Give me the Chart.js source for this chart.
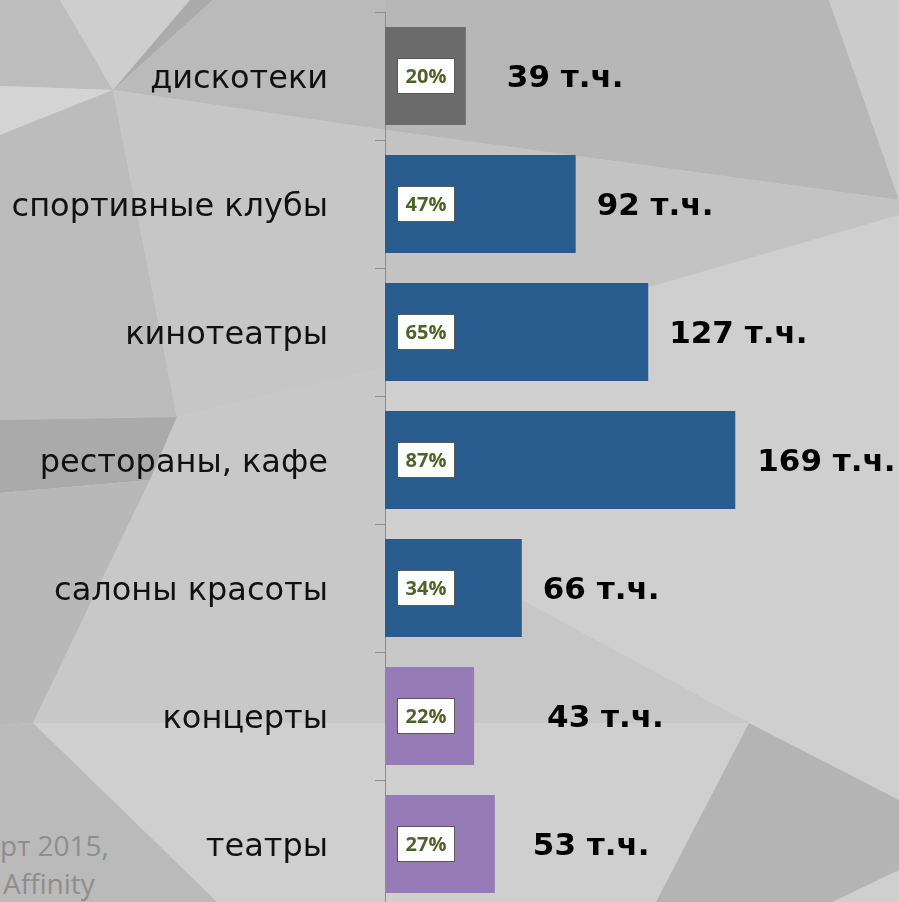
<!DOCTYPE html>
<html>
<head>
<meta charset="utf-8">
<script src="https://cdn.jsdelivr.net/npm/chart.js@4/dist/chart.umd.min.js"></script>
<style>
  html, body { margin: 0; padding: 0; overflow: hidden; background: #cccccc; }
  #bg { position: absolute; left: 0; top: 0; }
  #chart { position: absolute; left: 0; top: 0; }
  .note { position: absolute; left: 0; font-family: "Open Sans", sans-serif; font-size: 28px; color: #8e8e8e; line-height: 1; }
</style>
</head>
<body>
<!-- фон из серых треугольников -->
<svg id="bg" width="899" height="902" xmlns="http://www.w3.org/2000/svg">
  <rect x="0" y="0" width="899" height="902" fill="#cfcfcf"/>
  <polygon points="0,0 60,0 113,90 0,86" fill="#bdbdbd"/>
  <polygon points="60,0 190,0 113,90" fill="#cecece"/>
  <polygon points="190,0 213,0 113,90" fill="#ababab"/>
  <polygon points="213,0 385,0 385,130 113,90" fill="#bababa"/>
  <polygon points="0,86 113,90 0,135" fill="#d4d4d4"/>
  <polygon points="0,135 113,90 177,417 0,420" fill="#bcbcbc"/>
  <polygon points="113,90 385,130 385,367 177,417" fill="#c6c6c6"/>
  <polygon points="0,420 177,417 150,480 0,493" fill="#aaaaaa"/>
  <polygon points="0,493 150,480 33,723 0,725" fill="#b8b8b8"/>
  <polygon points="150,480 177,417 385,367 385,723 33,723" fill="#c8c8c8"/>
  <polygon points="33,723 385,723 385,902 217,902" fill="#cfcfcf"/>
  <polygon points="0,725 33,723 217,902 0,902" fill="#bababa"/>
  <polygon points="385,0 829,0 899,200 385,130" fill="#b7b7b7"/>
  <polygon points="829,0 899,0 899,200" fill="#cbcbcb"/>
  <polygon points="385,130 899,200 899,215 649,287 385,365" fill="#c3c3c3"/>
  <polygon points="385,560 522,600 749,723 385,723" fill="#c7c7c7"/>
  <polygon points="749,723 899,800 899,870 832,902 656,902" fill="#b4b4b4"/>
</svg>
<div class="note" style="top:831px;">рт 2015,</div>
<div class="note" style="top:869px; left:3px;">Affinity</div>
<canvas id="chart" width="899" height="910"></canvas>
<script>
// данные
const categories = ['дискотеки', 'спортивные клубы', 'кинотеатры', 'рестораны, кафе', 'салоны красоты', 'концерты', 'театры'];
const visitors = [39, 92, 127, 169, 66, 43, 53];   // тыс. человек
const shares = [20, 47, 65, 87, 34, 22, 27];        // %

// оформление
const barColors = ['#6b6b6b', '#285b8e', '#285b8e', '#285b8e', '#285b8e', '#967bb6', '#967bb6'];
const labelGap = [41, 21, 21, 22, 21, 73, 38];

const barLabels = {
    id: 'barLabels',
    afterDatasetsDraw(chart) {
        const ctx = chart.ctx;
        const meta = chart.getDatasetMeta(0);
        ctx.save();
        meta.data.forEach((bar, i) => {
            // белая плашка с процентом
            const bx = Math.round(bar.base) + 12;
            const by = Math.round(bar.y) - 18;
            ctx.fillStyle = '#ffffff';
            ctx.fillRect(bx, by, 58, 36);
            ctx.strokeStyle = '#5a5a5a';
            ctx.lineWidth = 1;
            ctx.strokeRect(bx + 0.5, by + 0.5, 57, 35);
            ctx.fillStyle = '#4f6228';
            ctx.font = 'bold 20px "Open Sans"';
            ctx.textAlign = 'center';
            ctx.textBaseline = 'middle';
            ctx.fillText(shares[i] + '%', bx + 29, by + 19);

            // подпись значения
            ctx.fillStyle = '#000000';
            ctx.font = 'bold 31px "DejaVu Sans"';
            ctx.textAlign = 'left';
            ctx.fillText(visitors[i] + ' т.ч.', bar.x + labelGap[i], bar.y + 3);
        });
        ctx.restore();
    }
};

new Chart(document.getElementById('chart'), {
    type: 'bar',
    data: {
        labels: categories,
        datasets: [{
            data: visitors,
            backgroundColor: barColors,
            borderWidth: 0,
            barPercentage: 0.765,
            categoryPercentage: 1
        }]
    },
    options: {
        indexAxis: 'y',
        responsive: false,
        animation: false,
        layout: { padding: { top: 12, bottom: 2, left: 0, right: 0 } },
        plugins: { legend: { display: false }, tooltip: { enabled: false } },
        scales: {
            x: { display: false, min: 0, max: 248 },
            y: {
                afterFit(scale) {
                    scale.width = 385;
                    scale.paddingTop = 0;
                    scale.paddingBottom = 0;
                },
                border: { color: '#8c8c8c', width: 1 },
                grid: { drawOnChartArea: false, offset: true, tickLength: 10, color: '#8c8c8c' },
                ticks: {
                    padding: 47,
                    labelOffset: 4,
                    color: '#111111',
                    font: { family: '"DejaVu Sans"', size: 32 }
                }
            }
        }
    },
    plugins: [barLabels]
});
</script>
</body>
</html>
